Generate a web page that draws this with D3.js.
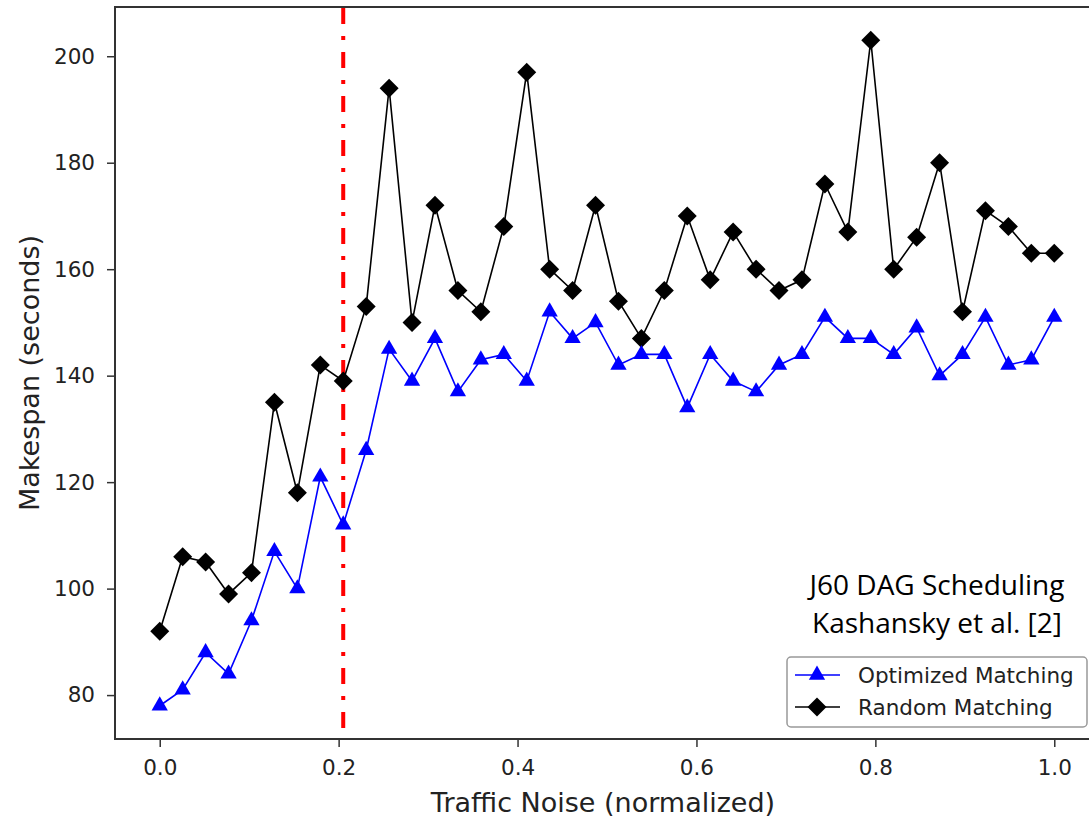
<!DOCTYPE html>
<html>
<head>
<meta charset="utf-8">
<script src="https://cdn.jsdelivr.net/npm/d3@7"></script>
<style>
  body { margin: 0; background: #fff; }
  svg text { font-family: "DejaVu Sans", sans-serif; fill: #222; }
</style>
</head>
<body>
<div id="chart"></div>
<script>
// values, 40 runs from noise 0 to 1
var optimized = [78, 81, 88, 84, 94, 107, 100, 121, 112, 126, 145, 139, 147, 137, 143, 144, 139, 152, 147, 150,
                 142, 144, 144, 134, 144, 139, 137, 142, 144, 151, 147, 147, 144, 149, 140, 144, 151, 142, 143, 151];
var random = [92, 106, 105, 99, 103, 135, 118, 142, 139, 153, 194, 150, 172, 156, 152, 168, 197, 160, 156, 172,
              154, 147, 156, 170, 158, 167, 160, 156, 158, 176, 167, 203, 160, 166, 180, 152, 171, 168, 163, 163];
var noise = optimized.map(function(d, i) { return i / (optimized.length - 1); });
var xTicks = [0, 0.2, 0.4, 0.6, 0.8, 1.0];
var yTicks = [80, 100, 120, 140, 160, 180, 200];
var thresholdIndex = 8;
var seriesNames = ["Optimized Matching", "Random Matching"];
var noteLines = ["J60 DAG Scheduling", "Kashansky et al. [2]"];

var width = 1089, height = 817;
var plotLeft = 115, plotRight = 1099, plotTop = 7, plotBottom = 739;

var svg = d3.select("#chart").append("svg")
  .attr("width", width)
  .attr("height", height);

var x = d3.scaleLinear().domain([-0.05, 1.05]).range([plotLeft, plotRight]);
var y = d3.scaleLinear().domain([71.75, 209.25]).range([plotBottom, plotTop]);

// axes
var xAxis = svg.append("g")
  .attr("transform", "translate(0," + plotBottom + ")")
  .call(d3.axisBottom(x).tickValues(xTicks).tickFormat(d3.format(".1f")).tickSizeInner(8).tickSizeOuter(0).tickPadding(13));
var yAxis = svg.append("g")
  .attr("transform", "translate(" + plotLeft + ",0)")
  .call(d3.axisLeft(y).tickValues(yTicks).tickSizeInner(8).tickSizeOuter(0).tickPadding(12));
[xAxis, yAxis].forEach(function(a) {
  a.select(".domain").remove();
  a.selectAll(".tick line").attr("stroke", "#333").attr("stroke-width", 1.5);
  a.selectAll(".tick text").style("font-size", "21.5px").attr("fill", "#222");
});

// frame
svg.append("rect")
  .attr("x", plotLeft).attr("y", plotTop)
  .attr("width", plotRight - plotLeft).attr("height", plotBottom - plotTop)
  .attr("fill", "none").attr("stroke", "#333").attr("stroke-width", 2);

// threshold line
svg.append("line")
  .attr("x1", x(noise[thresholdIndex])).attr("x2", x(noise[thresholdIndex]))
  .attr("y1", plotTop + 1).attr("y2", plotBottom)
  .attr("stroke", "#ff0000").attr("stroke-width", 4)
  .attr("stroke-dasharray", "16,12,4,12");

var line = d3.line()
  .x(function(d, i) { return x(noise[i]); })
  .y(function(d) { return y(d); });

var triangle = d3.symbol().type(d3.symbolTriangle).size(115);
var diamond = "M0,-9.5L9.5,0L0,9.5L-9.5,0Z";

// random matching
svg.append("path").datum(random)
  .attr("d", line).attr("fill", "none")
  .attr("stroke", "#000").attr("stroke-width", 1.6);
svg.selectAll(".dia").data(random).enter().append("path")
  .attr("class", "dia")
  .attr("d", diamond)
  .attr("transform", function(d, i) { return "translate(" + x(noise[i]) + "," + y(d) + ")"; })
  .attr("fill", "#000");

// optimized matching
svg.append("path").datum(optimized)
  .attr("d", line).attr("fill", "none")
  .attr("stroke", "#0000ff").attr("stroke-width", 1.6);
svg.selectAll(".tri").data(optimized).enter().append("path")
  .attr("class", "tri")
  .attr("d", triangle)
  .attr("transform", function(d, i) { return "translate(" + x(noise[i]) + "," + y(d) + ")"; })
  .attr("fill", "#0000ff");

// axis labels
svg.append("text")
  .attr("x", (plotLeft + plotRight) / 2 - 4).attr("y", 812)
  .attr("text-anchor", "middle")
  .style("font-size", "27px")
  .text("Traffic Noise (normalized)");
svg.append("text")
  .attr("transform", "translate(39," + ((plotTop + plotBottom) / 2) + ") rotate(-90)")
  .attr("text-anchor", "middle")
  .style("font-size", "27px")
  .text("Makespan (seconds)");

// note
svg.selectAll(".note").data(noteLines).enter().append("text")
  .attr("class", "note")
  .attr("x", 937)
  .attr("y", function(d, i) { return 595 + i * 38; })
  .attr("text-anchor", "middle")
  .style("font-family", "'Open Sans', sans-serif")
  .style("font-size", "28px")
  .style("fill", "#000")
  .text(function(d) { return d; });

// legend
var legend = svg.append("g").attr("transform", "translate(787,657)");
legend.append("rect")
  .attr("width", 300).attr("height", 70).attr("rx", 4)
  .attr("fill", "#fff").attr("stroke", "#999").attr("stroke-width", 1.5);
seriesNames.forEach(function(name, i) {
  var cy = 18 + i * 32;
  var col = i === 0 ? "#0000ff" : "#000";
  legend.append("line")
    .attr("x1", 8).attr("x2", 53).attr("y1", cy).attr("y2", cy)
    .attr("stroke", col).attr("stroke-width", 1.6);
  legend.append("path")
    .attr("d", i === 0 ? triangle : diamond)
    .attr("transform", "translate(30," + cy + ")")
    .attr("fill", col);
  legend.append("text")
    .attr("x", 71).attr("y", cy + 8)
    .style("font-size", "21.5px")
    .text(name);
});
</script>
</body>
</html>
